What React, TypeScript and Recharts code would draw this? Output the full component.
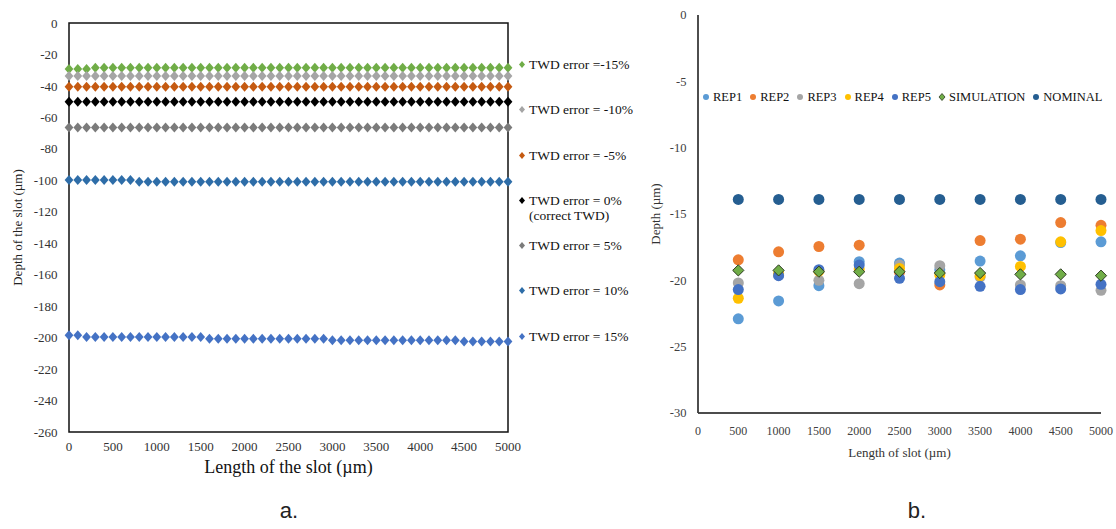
import React from "react";
import { ScatterChart, Scatter, XAxis, YAxis, ReferenceArea, Legend } from "recharts";

const SERIF = "Liberation Serif";

// ---- chart a: depth along the slot for each TWD error ----
const LENGTHS_A = [
  0, 100, 200, 300, 400, 500, 600, 700, 800, 900,
  1000, 1100, 1200, 1300, 1400, 1500, 1600, 1700, 1800, 1900,
  2000, 2100, 2200, 2300, 2400, 2500, 2600, 2700, 2800, 2900,
  3000, 3100, 3200, 3300, 3400, 3500, 3600, 3700, 3800, 3900,
  4000, 4100, 4200, 4300, 4400, 4500, 4600, 4700, 4800, 4900,
  5000,
];

const TWD_M15 = [
  -29.2, -29.2, -29.2, -28.4, -28.4, -28.4, -28.4, -28.4, -28.4, -28.4,
  -28.4, -28.4, -28.4, -28.4, -28.4, -28.4, -28.4, -28.4, -28.4, -28.4,
  -28.4, -28.4, -28.4, -28.4, -28.4, -28.4, -28.4, -28.4, -28.4, -28.4,
  -28.4, -28.4, -28.4, -28.4, -28.4, -28.4, -28.4, -28.4, -28.4, -28.4,
  -28.4, -28.4, -28.4, -28.4, -28.4, -28.4, -28.4, -28.4, -28.4, -28.4,
  -28.4,
];
const TWD_M10 = [
  -33.7, -33.7, -33.7, -33.7, -33.7, -33.7, -33.7, -33.7, -33.7, -33.7,
  -33.7, -33.7, -33.7, -33.7, -33.7, -33.7, -33.7, -33.7, -33.7, -33.7,
  -33.7, -33.7, -33.7, -33.7, -33.7, -33.7, -33.7, -33.7, -33.7, -33.7,
  -33.7, -33.7, -33.7, -33.7, -33.7, -33.7, -33.7, -33.7, -33.7, -33.7,
  -33.7, -33.7, -33.7, -33.7, -33.7, -33.7, -33.7, -33.7, -33.7, -33.7,
  -33.7,
];
const TWD_M5 = [
  -40.5, -40.5, -40.5, -40.5, -40.5, -40.5, -40.5, -40.5, -40.5, -40.5,
  -40.5, -40.5, -40.5, -40.5, -40.5, -40.5, -40.5, -40.5, -40.5, -40.5,
  -40.5, -40.5, -40.5, -40.5, -40.5, -40.5, -40.5, -40.5, -40.5, -40.5,
  -40.5, -40.5, -40.5, -40.5, -40.5, -40.5, -40.5, -40.5, -40.5, -40.5,
  -40.5, -40.5, -40.5, -40.5, -40.5, -40.5, -40.5, -40.5, -40.5, -40.5,
  -40.5,
];
const TWD_0 = [
  -50, -50, -50, -50, -50, -50, -50, -50, -50, -50,
  -50, -50, -50, -50, -50, -50, -50, -50, -50, -50,
  -50, -50, -50, -50, -50, -50, -50, -50, -50, -50,
  -50, -50, -50, -50, -50, -50, -50, -50, -50, -50,
  -50, -50, -50, -50, -50, -50, -50, -50, -50, -50,
  -50,
];
const TWD_P5 = [
  -66.5, -66.5, -66.5, -66.5, -66.5, -66.5, -66.5, -66.5, -66.5, -66.5,
  -66.5, -66.5, -66.5, -66.5, -66.5, -66.5, -66.5, -66.5, -66.5, -66.5,
  -66.5, -66.5, -66.5, -66.5, -66.5, -66.5, -66.5, -66.5, -66.5, -66.5,
  -66.5, -66.5, -66.5, -66.5, -66.5, -66.5, -66.5, -66.5, -66.5, -66.5,
  -66.5, -66.5, -66.5, -66.5, -66.5, -66.5, -66.5, -66.5, -66.5, -66.5,
  -66.5,
];
const TWD_P10 = [
  -99.8, -99.8, -99.8, -99.8, -99.8, -99.8, -99.8, -99.8, -100.9, -100.9,
  -100.9, -100.9, -100.9, -100.9, -100.9, -100.9, -100.9, -100.9, -100.9, -100.9,
  -100.9, -100.9, -100.9, -100.9, -100.9, -100.9, -100.9, -100.9, -100.9, -100.9,
  -100.9, -100.9, -100.9, -100.9, -100.9, -100.9, -100.9, -100.9, -100.9, -100.9,
  -100.9, -100.9, -100.9, -100.9, -100.9, -100.9, -100.9, -100.9, -100.9, -100.9,
  -100.9,
];
const TWD_P15 = [
  -198.5, -198.5, -199.6, -199.6, -199.6, -199.6, -199.6, -199.6, -199.6, -199.6,
  -199.6, -199.6, -199.6, -199.6, -199.6, -199.6, -200.7, -200.7, -200.7, -200.7,
  -200.7, -200.7, -200.7, -200.7, -200.7, -200.7, -200.7, -200.7, -200.7, -200.7,
  -201.7, -201.7, -201.7, -201.7, -201.7, -201.7, -201.7, -201.7, -201.7, -201.7,
  -201.7, -201.7, -201.7, -201.7, -201.7, -202.4, -202.4, -202.4, -202.4, -202.4,
  -202.4,
];

const VALUES_A = [TWD_M15, TWD_M10, TWD_M5, TWD_0, TWD_P5, TWD_P10, TWD_P15];
const LABELS_A = [
  "TWD error =-15%",
  "TWD error = -10%",
  "TWD error = -5%",
  "TWD error = 0%\n(correct TWD)",
  "TWD error = 5%",
  "TWD error = 10%",
  "TWD error = 15%",
];
const COLORS_A = ["#70AD47", "#A5A5A5", "#C55A11", "#000000", "#7B7B7B", "#2E6DA8", "#4472C4"];
const X_TICKS_A = [0, 500, 1000, 1500, 2000, 2500, 3000, 3500, 4000, 4500, 5000];
const Y_TICKS_A = [0, -20, -40, -60, -80, -100, -120, -140, -160, -180, -200, -220, -240, -260];

// ---- chart b: measured repetitions vs simulation ----
const LENGTHS_B = [500, 1000, 1500, 2000, 2500, 3000, 3500, 4000, 4500, 5000];
const REP1 = [-22.9, -21.55, -20.4, -18.6, -18.7, -19.2, -18.55, -18.15, -17.15, -17.1];
const REP2 = [-18.45, -17.85, -17.45, -17.35, -19.4, -20.35, -17.0, -16.9, -15.65, -15.85];
const REP3 = [-20.2, -19.6, -20.0, -20.25, -18.85, -18.9, -19.75, -20.35, -20.4, -20.75];
const REP4 = [-21.35, -19.5, -19.3, -19.15, -19.1, -19.6, -19.65, -18.95, -17.1, -16.25];
const REP5 = [-20.7, -19.65, -19.2, -18.85, -19.85, -20.1, -20.45, -20.7, -20.65, -20.3];
const SIMULATION = [-19.25, -19.25, -19.35, -19.35, -19.35, -19.45, -19.45, -19.55, -19.55, -19.65];
const NOMINAL = [-13.9, -13.9, -13.9, -13.9, -13.9, -13.9, -13.9, -13.9, -13.9, -13.9];

const VALUES_B = [REP1, REP2, REP3, REP4, REP5, SIMULATION, NOMINAL];
const LABELS_B = ["REP1", "REP2", "REP3", "REP4", "REP5", "SIMULATION", "NOMINAL"];
const COLORS_B = ["#5B9BD5", "#ED7D31", "#A5A5A5", "#FFC000", "#4472C4", "#70AD47", "#255E91"];
const X_TICKS_B = [0, 500, 1000, 1500, 2000, 2500, 3000, 3500, 4000, 4500, 5000];
const Y_TICKS_B = [0, -5, -10, -15, -20, -25, -30];

const toPoints = (xs: number[], ys: number[]) => xs.map((x, i) => ({ x, y: ys[i] }));

const diamond = (rx: number, ry: number, fill: string, stroke?: string) => (props: any) => {
  const { cx, cy } = props;
  if (cx == null || cy == null) return <g />;
  return (
    <polygon
      points={`${cx},${cy - ry} ${cx + rx},${cy} ${cx},${cy + ry} ${cx - rx},${cy}`}
      fill={fill}
      stroke={stroke ?? "none"}
      strokeWidth={stroke ? 1 : 0}
    />
  );
};

const dot = (r: number, fill: string) => (props: any) => {
  const { cx, cy } = props;
  if (cx == null || cy == null) return <g />;
  return <circle cx={cx} cy={cy} r={r} fill={fill} />;
};

const LegendA = () => (
  <div style={{ fontFamily: SERIF, fontSize: 13.5, color: "#111" }}>
    {LABELS_A.map((label, i) => (
      <div key={label} style={{ height: 45.3, display: "flex", alignItems: "flex-start" }}>
        <svg width={8} height={15} style={{ flex: "none" }}>
          <polygon points="4,4 7,7.5 4,11 1,7.5" fill={COLORS_A[i]} />
        </svg>
        <div style={{ marginLeft: 3, lineHeight: "15px", whiteSpace: "nowrap" }}>
          {label.split("\n").map((line) => (
            <div key={line}>{line}</div>
          ))}
        </div>
      </div>
    ))}
  </div>
);

const LegendB = () => (
  <div style={{ display: "flex", fontFamily: SERIF, fontSize: 12.5, color: "#111", lineHeight: "14px" }}>
    {LABELS_B.map((label, i) => (
      <div key={label} style={{ display: "flex", alignItems: "center", marginRight: 7 }}>
        <svg width={8} height={14} style={{ flex: "none" }}>
          {label === "SIMULATION" ? (
            <polygon points="4,3.5 7,7 4,10.5 1,7" fill={COLORS_B[i]} stroke="#2d3b22" strokeWidth={0.8} />
          ) : (
            <circle cx={4} cy={7} r={3} fill={COLORS_B[i]} />
          )}
        </svg>
        <span style={{ marginLeft: 3, whiteSpace: "nowrap" }}>{label}</span>
      </div>
    ))}
  </div>
);

const App = () => {
  return (
    <div style={{ position: "absolute", left: 0, top: 0, width: 1116, height: 529, background: "#fff" }}>
      {/* chart a */}
      <div style={{ position: "absolute", left: 0, top: 0 }}>
        <ScatterChart width={660} height={490} margin={{ top: 23, right: 152, bottom: 0, left: 0 }}>
          <XAxis
            type="number"
            dataKey="x"
            domain={[0, 5000]}
            ticks={X_TICKS_A}
            axisLine={false}
            tickLine={false}
            tickMargin={4}
            height={58}
            tick={{ fontFamily: SERIF, fontSize: 13, fill: "#333" }}
            label={{
              value: "Length of the slot (\u00b5m)",
              position: "insideTop",
              offset: 28,
              style: { fontFamily: SERIF, fontSize: 18, fill: "#111" },
            }}
          />
          <YAxis
            type="number"
            dataKey="y"
            domain={[-260, 0]}
            ticks={Y_TICKS_A}
            axisLine={false}
            tickLine={false}
            tickMargin={5.5}
            width={69}
            tick={{ fontFamily: SERIF, fontSize: 13, fill: "#333" }}
            label={{
              value: "Depth of the slot (\u00b5m)",
              angle: -90,
              position: "insideLeft",
              offset: 17,
              style: { fontFamily: SERIF, fontSize: 13, fill: "#222", textAnchor: "middle" },
            }}
          />
          <ReferenceArea x1={0} x2={5000} y1={-260} y2={0} fill="none" stroke="#111" strokeWidth={1.5} fillOpacity={0} />
          {VALUES_A.map((vals, i) => (
            <Scatter
              key={LABELS_A[i]}
              name={LABELS_A[i]}
              data={toPoints(LENGTHS_A, vals)}
              fill={COLORS_A[i]}
              shape={diamond(4.4, 5, COLORS_A[i])}
              isAnimationActive={false}
            />
          ))}
          <Legend
            layout="horizontal"
            align="center"
            verticalAlign="middle"
            content={() => <LegendA />}
            wrapperStyle={{ left: 518, top: 57, width: 140, height: 330 }}
          />
        </ScatterChart>
      </div>

      {/* chart b */}
      <div style={{ position: "absolute", left: 560, top: 0 }}>
        <ScatterChart width={556} height={490} margin={{ top: 15, right: 15, bottom: 0, left: 60 }}>
          <XAxis
            type="number"
            dataKey="x"
            domain={[0, 5000]}
            ticks={X_TICKS_B}
            axisLine={{ stroke: "#111", strokeWidth: 1.3 }}
            tickLine={false}
            tickMargin={7}
            height={77}
            tick={{ fontFamily: SERIF, fontSize: 12, fill: "#404040" }}
            label={{
              value: "Length of slot (\u00b5m)",
              position: "insideTop",
              offset: 35,
              style: { fontFamily: SERIF, fontSize: 13, fill: "#333" },
            }}
          />
          <YAxis
            type="number"
            dataKey="y"
            domain={[-30, 0]}
            ticks={Y_TICKS_B}
            axisLine={{ stroke: "#3a3a3a", strokeWidth: 1.8 }}
            tickLine={false}
            tickMargin={5.5}
            width={78}
            tick={{ fontFamily: SERIF, fontSize: 12.5, fill: "#404040" }}
            label={{
              value: "Depth (\u00b5m)",
              angle: -90,
              position: "insideLeft",
              offset: 35,
              style: { fontFamily: SERIF, fontSize: 13, fill: "#333", textAnchor: "middle" },
            }}
          />
          {VALUES_B.map((vals, i) => (
            <Scatter
              key={LABELS_B[i]}
              name={LABELS_B[i]}
              data={toPoints(LENGTHS_B, vals)}
              fill={COLORS_B[i]}
              shape={
                LABELS_B[i] === "SIMULATION"
                  ? diamond(5.6, 5.6, COLORS_B[i], "#2d3b22")
                  : dot(5.5, COLORS_B[i])
              }
              isAnimationActive={false}
            />
          ))}
          <Legend
            layout="horizontal"
            align="center"
            verticalAlign="middle"
            content={() => <LegendB />}
            wrapperStyle={{ left: 142, top: 90, width: 400, height: 14 }}
          />
        </ScatterChart>
      </div>

      <div style={{ position: "absolute", left: 239, top: 497, width: 100, textAlign: "center", fontFamily: '"Liberation Sans", Arial, sans-serif', fontSize: 22, lineHeight: "28px", color: "#222" }}>
        a.
      </div>
      <div style={{ position: "absolute", left: 867, top: 497, width: 100, textAlign: "center", fontFamily: '"Liberation Sans", Arial, sans-serif', fontSize: 22, lineHeight: "28px", color: "#222" }}>
        b.
      </div>
    </div>
  );
};

export default App;
